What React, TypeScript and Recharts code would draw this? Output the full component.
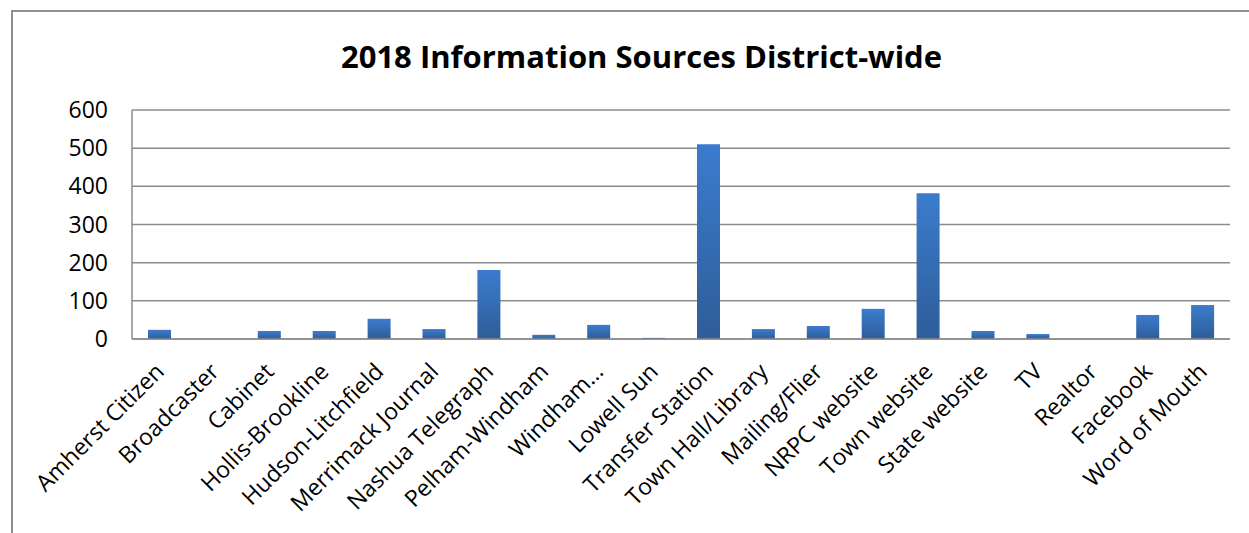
import React from 'react';
import { BarChart, Bar, XAxis, YAxis, CartesianGrid } from 'recharts';

const sources = [
  'Amherst Citizen', 'Broadcaster', 'Cabinet', 'Hollis-Brookline', 'Hudson-Litchfield',
  'Merrimack Journal', 'Nashua Telegraph', 'Pelham-Windham', 'Windham…', 'Lowell Sun',
  'Transfer Station', 'Town Hall/Library', 'Mailing/Flier', 'NRPC website', 'Town website',
  'State website', 'TV', 'Realtor', 'Facebook', 'Word of Mouth',
];
const counts = [24, 0, 21, 21, 53, 26, 181, 11, 37, 3, 510, 26, 34, 79, 382, 21, 13, 0, 63, 89];
const yTicks = [0, 100, 200, 300, 400, 500, 600];

const data = sources.map((name, i) => ({ name, value: counts[i] }));

const FONT = '"Open Sans", sans-serif';

const SlantTick = (props: any) => {
  const { x, y, payload } = props;
  const ax = x + 6;
  const ay = y + 26;
  return (
    <text
      x={ax}
      y={ay}
      transform={`rotate(-45, ${ax}, ${ay})`}
      textAnchor="end"
      fontSize={23}
      fontFamily={FONT}
      fill="#000"
    >
      {payload.value}
    </text>
  );
};

export default function App() {
  return (
    <div style={{ position: 'fixed', left: 0, top: 0, width: 1249, height: 533, overflow: 'hidden', background: '#fff' }}>
      <div style={{ position: 'absolute', left: 11, top: 10, width: 1300, height: 600, border: '2px solid #8f8f8f' }} />
      <div
        style={{
          position: 'absolute', left: 0, top: 35, width: 1283, textAlign: 'center',
          fontFamily: FONT, fontWeight: 700, fontSize: 31, color: '#000', lineHeight: 'normal',
        }}
      >
        2018 Information Sources District-wide
      </div>
      <div style={{ position: 'absolute', left: 0, top: 0 }}>
        <BarChart
          width={1249}
          height={533}
          data={data}
          margin={{ top: 110, right: 19, bottom: 0, left: 72 }}
        >
          <defs>
            <linearGradient id="barFill" x1="0" y1="0" x2="0" y2="1">
              <stop offset="0%" stopColor="#3B7CCE" />
              <stop offset="100%" stopColor="#2E5D99" />
            </linearGradient>
          </defs>
          <CartesianGrid vertical={false} stroke="#8c8c8c" strokeWidth={1.5} />
          <XAxis
            dataKey="name"
            interval={0}
            height={194}
            tick={<SlantTick />}
            tickLine={false}
            axisLine={{ stroke: '#8c8c8c', strokeWidth: 1.5 }}
          />
          <YAxis
            width={60}
            domain={[0, 600]}
            ticks={yTicks}
            tickSize={0}
            tickMargin={24}
            tickLine={false}
            axisLine={{ stroke: '#8c8c8c', strokeWidth: 1.5 }}
            tick={{ fontSize: 23, fontFamily: FONT, fill: '#000' }}
          />
          <Bar dataKey="value" fill="url(#barFill)" barSize={23} isAnimationActive={false} />
        </BarChart>
      </div>
    </div>
  );
}
